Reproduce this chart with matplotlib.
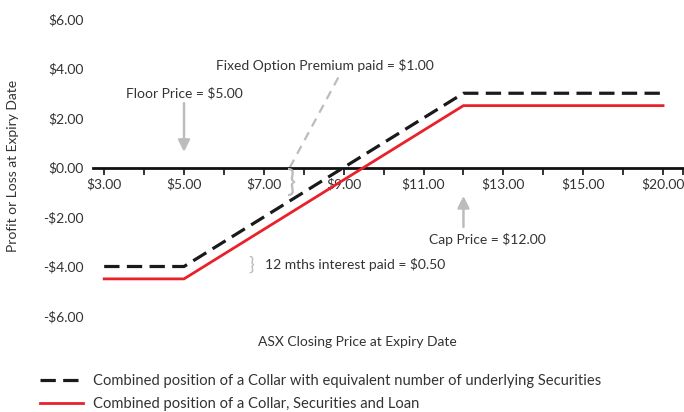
import numpy as np
import matplotlib
matplotlib.use("Agg")
import matplotlib.pyplot as plt

# category axis (one tick per step, the last step jumps to $20)
axis_prices = [3, 4, 5, 6, 7, 8, 9, 10, 11, 12, 13, 14, 15, 17.5, 20]
axis_labels = ["$3.00", "", "$5.00", "", "$7.00", "", "$9.00", "", "$11.00", "",
               "$13.00", "", "$15.00", "", "$20.00"]
y_ticks = [6, 4, 2, 0, -2, -4, -6]
y_labels = ["$6.00", "$4.00", "$2.00", "$0.00", "-$2.00", "-$4.00", "-$6.00"]

# payoff break points
price_pts = [3, 5, 12, 20]
collar_secs = [-4.0, -4.0, 3.0, 3.0]
collar_secs_loan = [-4.5, -4.5, 2.5, 2.5]

floor_price = 5
cap_price = 12

plt.rcParams['font.family'] = ['Lato', 'DejaVu Sans']
txt_col = '#333333'
gray = '#bcbcbc'
red = '#e8212b'
fs = 10


def pos(p):
    return np.interp(p, axis_prices, np.arange(len(axis_prices)))


fig = plt.figure(figsize=(6.84, 4.12), dpi=100)
ax = fig.add_axes([93/684, 1-316/412, (683-93)/684, (316-19)/412])

xs = pos(price_pts)
l1, = ax.plot(xs, collar_secs, color='#1a1a1a', lw=2.3, linestyle=(0, (4.8, 2.3)),
              solid_capstyle='butt', dash_capstyle='butt', zorder=4,
              label='Combined position of a Collar with equivalent number of underlying Securities')
l2, = ax.plot(xs, collar_secs_loan, color=red, lw=2.0, zorder=3,
              label='Combined position of a Collar, Securities and Loan')

ax.set_xlim(-0.28, 14.5)
ax.set_ylim(-6, 6)

for s in ['top', 'right', 'left']:
    ax.spines[s].set_visible(False)
ax.spines['bottom'].set_position(('data', 0))
ax.spines['bottom'].set_linewidth(2)
ax.spines['bottom'].set_color('#111111')

ax.set_xticks(list(range(len(axis_prices))) + [14.5])
ax.set_xticklabels(axis_labels + [""])
ax.tick_params(axis='x', direction='out', length=5, width=1.2, color='#111111',
               labelsize=fs, labelcolor=txt_col, pad=2.5)
ax.set_yticks(y_ticks)
ax.set_yticklabels(y_labels)
ax.tick_params(axis='y', length=0, labelsize=fs, labelcolor=txt_col, pad=7)

# fixed option premium: dashed guide + brace
ax.plot([4.65, 5.9], [0, 3.74], color=gray, lw=1.6, linestyle=(0, (4, 3)), zorder=1)
ax.text(4.58, -0.62, "}", color=gray, fontsize=22, ha='left', va='center')
ax.text(5.53, 4.14, "Fixed Option Premium paid = $1.00", color=txt_col,
        fontsize=fs, ha='center', va='center')

# floor price
ax.annotate("", xy=(pos(floor_price), 0.63), xytext=(pos(floor_price), 2.6),
            arrowprops=dict(arrowstyle='-|>,head_width=0.35,head_length=0.7',
                            color=gray, lw=1.8, shrinkA=0, shrinkB=0))
ax.text(pos(floor_price), 3.01, "Floor Price = $5.00", color=txt_col,
        fontsize=fs, ha='center', va='center')

# cap price
ax.annotate("", xy=(pos(cap_price), -1.15), xytext=(pos(cap_price), -2.4),
            arrowprops=dict(arrowstyle='-|>,head_width=0.35,head_length=0.7',
                            color=gray, lw=1.8, shrinkA=0, shrinkB=0))
ax.text(9.6, -2.89, "Cap Price = $12.00", color=txt_col,
        fontsize=fs, ha='center', va='center')

# interest
ax.text(3.6, -3.92, "}", color=gray, fontsize=14, ha='left', va='center')
ax.text(4.03, -3.92, "12 mths interest paid = $0.50", color=txt_col,
        fontsize=fs, ha='left', va='center')

fig.text(357/684, 1-342/412, "ASX Closing Price at Expiry Date", color=txt_col,
         fontsize=fs, ha='center', va='center')
fig.text(13/684, 1-166/412, "Profit or Loss at Expiry Date", color=txt_col,
         fontsize=fs, ha='center', va='center', rotation=90)

fig.legend(handles=[l1, l2], loc='upper left', bbox_to_anchor=(34/684, 1-368/412),
           frameon=False, fontsize=10.6, handlelength=2.9, handletextpad=0.7,
           labelspacing=0.6, labelcolor=txt_col, borderaxespad=0)

fig.savefig("out.png", dpi=100)
